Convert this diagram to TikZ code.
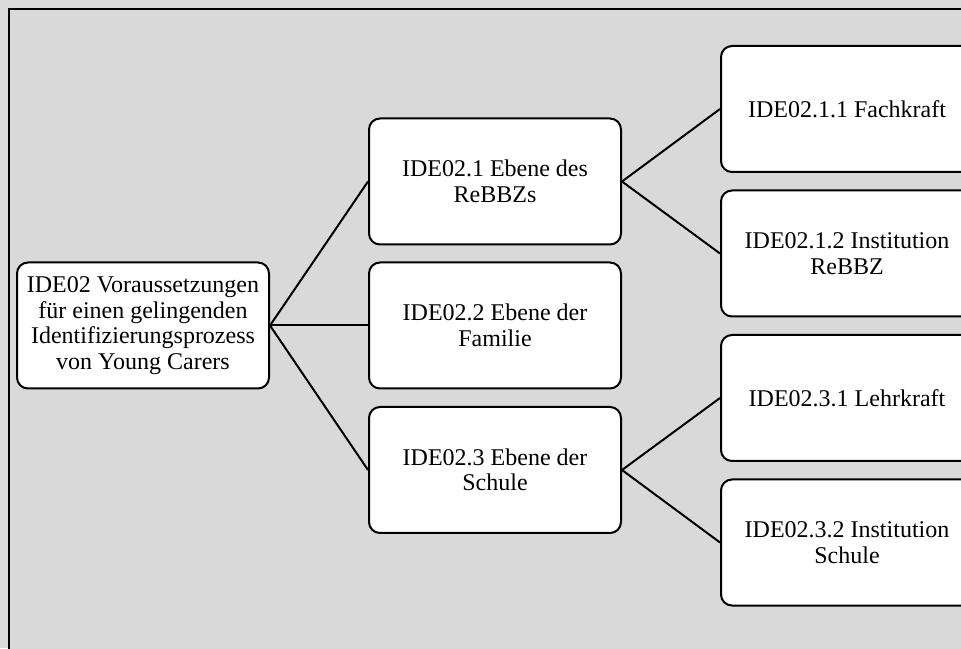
\documentclass[tikz,border=0pt]{standalone}
\usepackage{fontspec}
\setmainfont{Liberation Serif}
\begin{document}
\begin{tikzpicture}[x=1pt,y=1pt,
  box/.style={draw=black, line width=2pt, fill=white, rounded corners=11pt,
    minimum width=252pt, minimum height=126pt, align=center,
    inner sep=0pt, font=\fontsize{24}{25.5}\selectfont},
  link/.style={draw=black, line width=2pt}]
  % page area and frame
  \useasboundingbox (0,0) rectangle (961,648);
  \fill[gray!28] (0,0) rectangle (961,648);
  \fill[fill={rgb,255:red,217;green,217;blue,217}] (9,-5) rectangle (970,639);
  \draw[line width=2.2pt] (9,-5) -- (9,639) -- (970,639);
  \begin{scope}
    \clip (0,0) rectangle (961,648);
    % tree nodes
    \node[box] (root) at (143,322.5) {IDE02 Voraussetzungen\\f\"ur einen gelingenden\\Identifizierungsprozess\\von Young Carers};
    \node[box] (a) at (495,466.5) {IDE02.1 Ebene des\\ReBBZs};
    \node[box] (b) at (495,322.5) {IDE02.2 Ebene der\\Familie};
    \node[box] (c) at (495,178) {IDE02.3 Ebene der\\Schule};
    \node[box] (a1) at (847,539) {IDE02.1.1 Fachkraft};
    \node[box] (a2) at (847,394.5) {IDE02.1.2 Institution\\ReBBZ};
    \node[box] (c1) at (847,250) {IDE02.3.1 Lehrkraft};
    \node[box] (c2) at (847,105.5) {IDE02.3.2 Institution\\Schule};
    % connectors
    \draw[link] (root.east) -- (a.west);
    \draw[link] (root.east) -- (b.west);
    \draw[link] (root.east) -- (c.west);
    \draw[link] (a.east) -- (a1.west);
    \draw[link] (a.east) -- (a2.west);
    \draw[link] (c.east) -- (c1.west);
    \draw[link] (c.east) -- (c2.west);
  \end{scope}
\end{tikzpicture}
\end{document}
